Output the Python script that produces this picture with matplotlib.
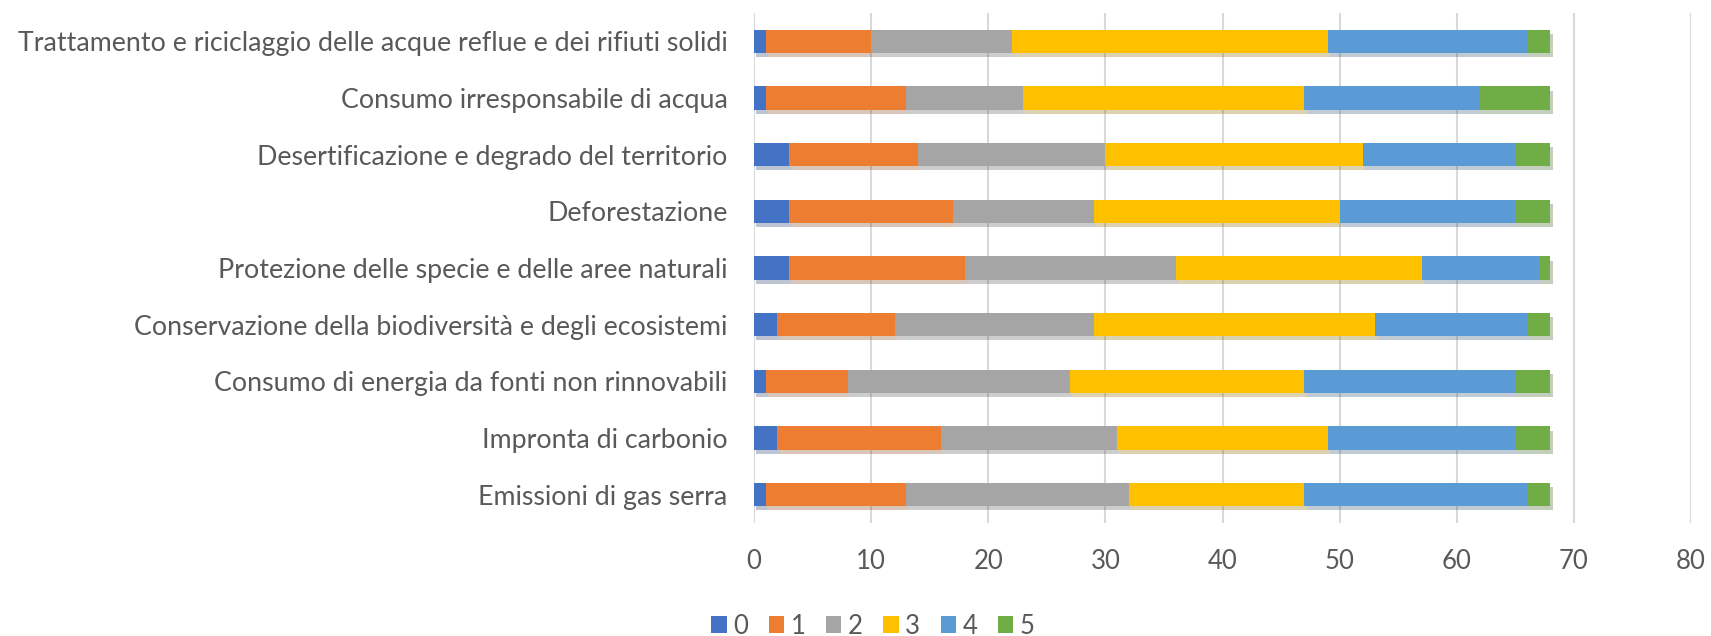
import matplotlib
matplotlib.use("Agg")
import matplotlib.pyplot as plt
import matplotlib.patheffects as pe
import numpy as np

categories = [
    "Emissioni di gas serra",
    "Impronta di carbonio",
    "Consumo di energia da fonti non rinnovabili",
    "Conservazione della biodiversità e degli ecosistemi",
    "Protezione delle specie e delle aree naturali",
    "Deforestazione",
    "Desertificazione e degrado del territorio",
    "Consumo irresponsabile di acqua",
    "Trattamento e riciclaggio delle acque reflue e dei rifiuti solidi",
]
s0 = [1, 2, 1, 2, 3, 3, 3, 1, 1]
s1 = [12, 14, 7, 10, 15, 14, 11, 12, 9]
s2 = [19, 15, 19, 17, 18, 12, 16, 10, 12]
s3 = [15, 18, 20, 24, 21, 21, 22, 24, 27]
s4 = [19, 16, 18, 13, 10, 15, 13, 15, 17]
s5 = [2, 3, 3, 2, 1, 3, 3, 6, 2]
series_names = ["0", "1", "2", "3", "4", "5"]
series = [s0, s1, s2, s3, s4, s5]
colors = ["#4472C4", "#ED7D31", "#A5A5A5", "#FFC000", "#5B9BD5", "#70AD47"]
xticks = [0, 10, 20, 30, 40, 50, 60, 70, 80]

plt.rcParams['font.family'] = ['Lato', 'DejaVu Sans']
text_color = "#595959"

W, H = 1711, 636
fig = plt.figure(figsize=(W / 100, H / 100), dpi=100)
ax = fig.add_axes([754 / W, 1 - 523 / H, (1691 - 754) / W, (523 - 13) / H])

y = np.arange(len(categories))
left = np.zeros(len(categories))
shadow = [pe.SimplePatchShadow(offset=(1.5, -3), alpha=0.3, rho=0.55), pe.Normal()]
for name, vals, c in zip(series_names, series, colors):
    bars = ax.barh(y, vals, left=left, height=0.41, color=c, label=name, zorder=3)
    for b in bars:
        b.set_path_effects(shadow)
    left += np.array(vals)

ax.set_xlim(0, 80)
ax.set_ylim(-0.5, len(categories) - 0.5)
ax.set_xticks(xticks)
ax.set_yticks(y)
ax.set_yticklabels(categories)
ax.grid(axis="x", color="#D9D9D9", linewidth=1.5, zorder=0)
ax.set_axisbelow(True)
for sp in ax.spines.values():
    sp.set_visible(False)
ax.tick_params(axis="both", length=0, labelcolor=text_color)
ax.tick_params(axis="y", pad=19, labelsize=19.3)
ax.tick_params(axis="x", pad=19, labelsize=18.5)

handles, labels = ax.get_legend_handles_labels()
leg = fig.legend(handles, labels, loc="center", bbox_to_anchor=(873 / W, 1 - 626 / H),
                 ncol=6, frameon=False, fontsize=18.5, handlelength=0.6, handleheight=0.6,
                 handletextpad=0.25, columnspacing=0.8, labelcolor=text_color)
for h in leg.legend_handles:
    h.set_path_effects([])

fig.savefig("out.png", dpi=100, facecolor="white")
